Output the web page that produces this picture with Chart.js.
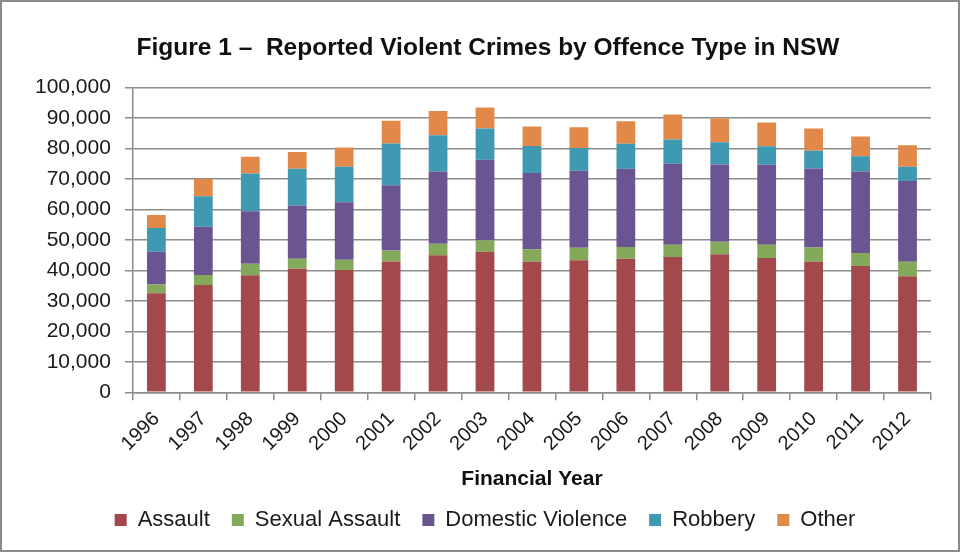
<!DOCTYPE html>
<html>
<head>
<meta charset="utf-8">
<script src="https://cdn.jsdelivr.net/npm/chart.js@4.4.1/dist/chart.umd.min.js"></script>
<style>
  body { margin: 0; background: #fff; }
  .frame { width: 960px; height: 552px; box-sizing: border-box; border: 2px solid #8a8a8a; background: #fff; }
</style>
</head>
<body>
<div class="frame"><canvas id="myChart" width="956" height="548"></canvas></div>
<script>
// financial years on the x axis
const years = ["1996", "1997", "1998", "1999", "2000", "2001", "2002", "2003", "2004",
  "2005", "2006", "2007", "2008", "2009", "2010", "2011", "2012"];

// reported offences per type
const assault = [32500, 35200, 38400, 40500, 40100, 42900, 45000, 46100, 42800,
  43300, 43800, 44400, 45300, 44100, 42800, 41400, 38100];
const sexualAssault = [2900, 3300, 3800, 3300, 3400, 3600, 3700, 3700, 4100,
  4100, 3900, 4000, 4100, 4300, 4700, 4300, 4700];
const domesticViolence = [10700, 15800, 17200, 17500, 18800, 21400, 23700, 26500, 25000,
  25300, 25600, 26600, 25300, 26200, 25900, 26700, 26500];
const robbery = [7800, 10000, 12400, 12000, 11700, 13700, 11900, 10200, 8900,
  7400, 8200, 7900, 7300, 6100, 5800, 5000, 4700];
const other = [4300, 5700, 5500, 5500, 6300, 7500, 8000, 6900, 6400,
  6800, 7400, 8200, 7800, 7800, 7300, 6500, 7000];

const yTicks = [0, 10000, 20000, 30000, 40000, 50000, 60000, 70000, 80000, 90000, 100000];

const font = "'Liberation Sans', Arial, Helvetica, sans-serif";
const gridColor = "#8c8c8c";

function series(label, data, color) {
  return {
    label: label,
    data: data,
    backgroundColor: color,
    borderWidth: 0,
    barPercentage: 0.4,
    categoryPercentage: 1.0,
  };
}

// title and legend sit a little right of the canvas centre in the original
const nudge = {
  id: "nudge",
  afterLayout(chart) {
    chart.titleBlock.left += 12;
    chart.titleBlock.right += 12;
    chart.legend.left += 9;
    chart.legend.right += 9;
  },
};

let ctx = document.getElementById("myChart");

let myChart = new Chart(ctx, {
  type: "bar",
  data: {
    labels: years,
    datasets: [
      series("Assault", assault, "#a4494b"),
      series("Sexual Assault", sexualAssault, "#84a95a"),
      series("Domestic Violence", domesticViolence, "#6a5592"),
      series("Robbery", robbery, "#3f99b2"),
      series("Other", other, "#e2894a"),
    ],
  },
  plugins: [nudge],
  options: {
    responsive: false,
    animation: false,
    layout: {
      padding: { left: 19, right: 27, top: 0, bottom: 9 },
    },
    plugins: {
      title: {
        display: true,
        text: "Figure 1 \u2013  Reported Violent Crimes by Offence Type in NSW",
        color: "#111",
        font: { family: font, size: 24.5, weight: "bold" },
        padding: { top: 32, bottom: 24 },
      },
      legend: {
        position: "bottom",
        labels: {
          color: "#1a1a1a",
          font: { family: font, size: 22 },
          boxWidth: 12,
          boxHeight: 12,
          padding: 22,
        },
      },
      tooltip: { enabled: false },
    },
    scales: {
      x: {
        stacked: true,
        offset: true,
        grid: {
          offset: true,
          drawOnChartArea: false,
          color: gridColor,
          lineWidth: 1.5,
          tickLength: 8,
        },
        border: { color: gridColor, width: 1.5 },
        ticks: {
          color: "#1a1a1a",
          font: { family: font, size: 20 },
          maxRotation: 45,
          minRotation: 45,
          padding: 7,
        },
        title: {
          display: true,
          text: "Financial Year",
          color: "#111",
          font: { family: font, size: 21, weight: "bold" },
          padding: { top: 4, bottom: -5 },
        },
      },
      y: {
        stacked: true,
        min: 0,
        max: 100000,
        afterBuildTicks: (axis) => {
          axis.ticks = yTicks.map((v) => ({ value: v }));
        },
        grid: {
          color: gridColor,
          lineWidth: 1.5,
          tickLength: 8,
        },
        border: { color: gridColor, width: 1.5 },
        ticks: {
          color: "#1a1a1a",
          font: { family: font, size: 21 },
          padding: 14,
          callback: (v) => v.toLocaleString("en-US"),
        },
      },
    },
  },
});
</script>
</body>
</html>
